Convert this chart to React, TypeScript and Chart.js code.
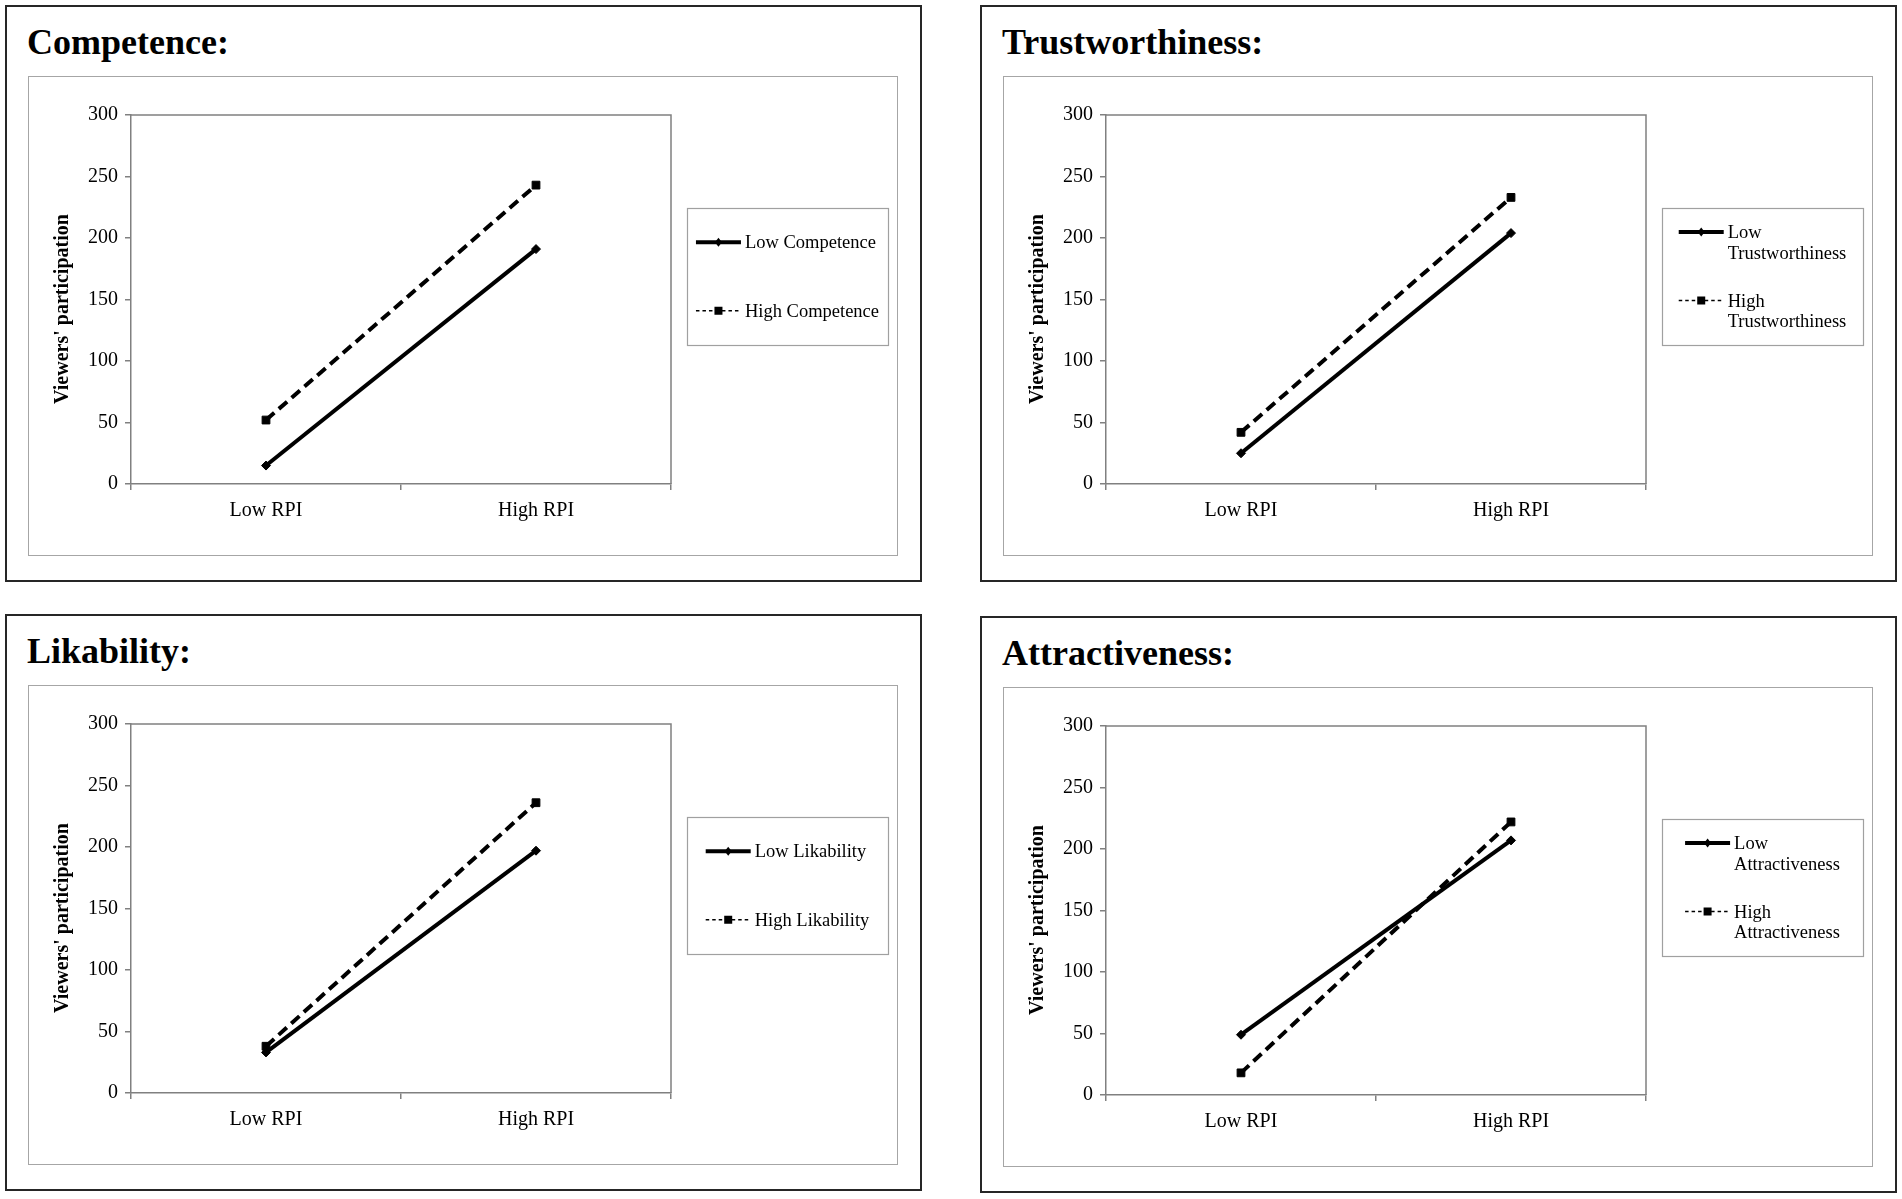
import React, { useEffect, useRef } from "react";
import { Chart, registerables } from "chart.js";

Chart.register(...registerables);

// ---------- data ----------
const categories = ["Low RPI", "High RPI"];
const yTicks = [0, 50, 100, 150, 200, 250, 300];
const yAxisTitle = "Viewers' participation";

const panelTitles = ["Competence:", "Trustworthiness:", "Likability:", "Attractiveness:"];
const lowLabels = ["Low Competence", "Low Trustworthiness", "Low Likability", "Low Attractiveness"];
const highLabels = ["High Competence", "High Trustworthiness", "High Likability", "High Attractiveness"];

const competenceLow = [15, 191];
const competenceHigh = [52, 243];
const trustLow = [25, 204];
const trustHigh = [42, 233];
const likabilityLow = [33, 197];
const likabilityHigh = [38, 236];
const attractLow = [49, 207];
const attractHigh = [18, 222];

const lowSeries = [competenceLow, trustLow, likabilityLow, attractLow];
const highSeries = [competenceHigh, trustHigh, likabilityHigh, attractHigh];

// ---------- layout ----------
const panelPos = [
  [5, 5],
  [980, 5],
  [5, 614],
  [980, 616],
];
const PANEL_W = 917;
const PANEL_H = 577;
const INNER_X = 23;
const INNER_Y = 71;
const INNER_W = 870;
const INNER_H = 480;
const SERIF = "'Liberation Serif', 'Times New Roman', serif";
const AXIS_GRAY = "#808080";

function wrapText(ctx: CanvasRenderingContext2D, text: string, maxW: number): string[] {
  const words = text.split(" ");
  const lines: string[] = [];
  let cur = "";
  for (const w of words) {
    const test = cur ? cur + " " + w : w;
    if (cur && ctx.measureText(test).width > maxW) {
      lines.push(cur);
      cur = w;
    } else {
      cur = test;
    }
  }
  if (cur) lines.push(cur);
  return lines;
}

const framePlugin = {
  id: "plotFrame",
  beforeDatasetsDraw(chart: any) {
    const { ctx, chartArea } = chart;
    ctx.save();
    ctx.strokeStyle = AXIS_GRAY;
    ctx.lineWidth = 1.5;
    ctx.beginPath();
    ctx.moveTo(chartArea.left, chartArea.top);
    ctx.lineTo(chartArea.right, chartArea.top);
    ctx.lineTo(chartArea.right, chartArea.bottom);
    ctx.stroke();
    ctx.restore();
  },
};

const yTitlePlugin = {
  id: "yTitle",
  afterDraw(chart: any, _args: any, opts: any) {
    const { ctx, chartArea } = chart;
    ctx.save();
    ctx.translate(opts.x, (chartArea.top + chartArea.bottom) / 2 + opts.dy);
    ctx.rotate(-Math.PI / 2);
    ctx.font = `bold 20px ${SERIF}`;
    ctx.fillStyle = "#000";
    ctx.textAlign = "center";
    ctx.textBaseline = "middle";
    ctx.fillText(opts.text, 0, 0);
    ctx.restore();
  },
};

const boxLegendPlugin = {
  id: "boxLegend",
  afterDraw(chart: any, _args: any, opts: any) {
    const ctx: CanvasRenderingContext2D = chart.ctx;
    const { x, y, w, h } = opts;
    ctx.save();
    ctx.strokeStyle = "#a0a0a0";
    ctx.lineWidth = 1.2;
    ctx.strokeRect(x + 0.5, y + 0.5, w, h);
    ctx.font = `18.5px ${SERIF}`;
    ctx.fillStyle = "#000";
    ctx.textBaseline = "alphabetic";
    const dss = chart.data.datasets;
    const n = dss.length;
    const lh = 20.5;
    const sampleW = 45;
    const gap = 4;
    const wrapped = dss.map((ds: any) => wrapText(ctx, ds.label, 141));
    let maxText = 0;
    wrapped.forEach((lines: string[]) =>
      lines.forEach((ln) => {
        maxText = Math.max(maxText, ctx.measureText(ln).width);
      })
    );
    const contentW = sampleW + gap + maxText;
    const left = x + (w - contentW) / 2;
    dss.forEach((ds: any, i: number) => {
      const lines = wrapped[i];
      const cy = y + (h * (2 * i + 1)) / (2 * n);
      const first = cy - ((lines.length - 1) * lh) / 2;
      const sx0 = left;
      const sx1 = left + sampleW;
      const mx = (sx0 + sx1) / 2;
      ctx.beginPath();
      ctx.strokeStyle = "#000";
      ctx.setLineDash(ds.legendDash);
      ctx.lineWidth = ds.legendWidth;
      ctx.moveTo(sx0, first);
      ctx.lineTo(sx1, first);
      ctx.stroke();
      ctx.setLineDash([]);
      ctx.fillStyle = "#000";
      if (ds.pointStyle === "rect") {
        ctx.fillRect(mx - 4, first - 4, 8, 8);
      } else {
        ctx.beginPath();
        ctx.moveTo(mx, first - 4.5);
        ctx.lineTo(mx + 3.5, first);
        ctx.lineTo(mx, first + 4.5);
        ctx.lineTo(mx - 3.5, first);
        ctx.closePath();
        ctx.fill();
      }
      lines.forEach((ln: string, j: number) => ctx.fillText(ln, sx1 + gap, first + j * lh + 6));
    });
    ctx.restore();
  },
};

function Panel({ idx }: { idx: number }) {
  const ref = useRef<HTMLCanvasElement | null>(null);
  useEffect(() => {
    if (!ref.current) return;
    const chart = new Chart(ref.current, {
      type: "line",
      data: {
        labels: categories,
        datasets: [
          {
            label: lowLabels[idx],
            data: lowSeries[idx],
            borderColor: "#000",
            backgroundColor: "#000",
            borderWidth: 4,
            pointStyle: "rectRot",
            pointRadius: 4.5,
            pointBorderWidth: 1,
            pointBackgroundColor: "#000",
            pointBorderColor: "#000",
            tension: 0,
            legendDash: [],
            legendWidth: 3.8,
          } as any,
          {
            label: highLabels[idx],
            data: highSeries[idx],
            borderColor: "#000",
            backgroundColor: "#000",
            borderWidth: 4,
            borderDash: [11, 6],
            pointStyle: "rect",
            pointRadius: 5.5,
            pointBorderWidth: 1,
            pointBackgroundColor: "#000",
            pointBorderColor: "#000",
            tension: 0,
            legendDash: [3.5, 3],
            legendWidth: 1.5,
          } as any,
        ],
      },
      options: {
        animation: false,
        responsive: false,
        maintainAspectRatio: false,
        events: [],
        layout: { padding: { left: 22, right: 227, top: 39, bottom: 22 } },
        plugins: {
          legend: { display: false },
          tooltip: { enabled: false },
          boxLegend: { x: 659, y: 132, w: 201, h: 137 },
          yTitle: { text: yAxisTitle, x: 35, dy: 9.5 },
        } as any,
        scales: {
          x: {
            type: "category",
            offset: true,
            grid: {
              offset: true,
              drawOnChartArea: false,
              drawTicks: true,
              tickLength: 6,
              color: AXIS_GRAY,
              lineWidth: 1.5,
            },
            border: { color: AXIS_GRAY, width: 1.5 },
            ticks: {
              color: "#000",
              padding: 9,
              font: { family: SERIF, size: 20 },
              maxRotation: 0,
            },
            afterFit: (s: any) => {
              s.height = 50;
            },
          },
          y: {
            min: yTicks[0],
            max: yTicks[yTicks.length - 1],
            grid: {
              drawOnChartArea: false,
              drawTicks: true,
              tickLength: 6,
              color: AXIS_GRAY,
              lineWidth: 1.5,
            },
            border: { color: AXIS_GRAY, width: 1.5 },
            ticks: {
              stepSize: yTicks[1] - yTicks[0],
              color: "#000",
              padding: 7,
              font: { family: SERIF, size: 20 },
            },
            title: { display: false },
            afterFit: (s: any) => {
              s.width = 81;
            },
          },
        },
      },
      plugins: [framePlugin, yTitlePlugin, boxLegendPlugin],
    } as any);
    return () => chart.destroy();
  }, [idx]);

  const [px, py] = panelPos[idx];
  return (
    <div
      style={{
        position: "absolute",
        left: px,
        top: py,
        width: PANEL_W,
        height: PANEL_H,
        boxSizing: "border-box",
        border: "2px solid #262626",
        background: "#fff",
      }}
    >
      <div
        style={{
          position: "absolute",
          left: 20,
          top: 16.85,
          fontFamily: SERIF,
          fontWeight: "bold",
          fontSize: 36,
          lineHeight: "36px",
          color: "#000",
          whiteSpace: "nowrap",
        }}
      >
        {panelTitles[idx]}
      </div>
      <div
        style={{
          position: "absolute",
          left: INNER_X - 2,
          top: INNER_Y - 2,
          width: INNER_W,
          height: INNER_H,
          boxSizing: "border-box",
          border: "1.5px solid #a6a6a6",
        }}
      />
      <canvas
        ref={ref}
        width={INNER_W}
        height={INNER_H}
        style={{
          position: "absolute",
          left: INNER_X - 2,
          top: INNER_Y - 2,
          width: INNER_W,
          height: INNER_H,
        }}
      />
    </div>
  );
}

export default function App() {
  return (
    <div
      style={{
        position: "absolute",
        left: 0,
        top: 0,
        width: 1902,
        height: 1199,
        background: "#fff",
      }}
    >
      {[0, 1, 2, 3].map((i) => (
        <Panel key={i} idx={i} />
      ))}
    </div>
  );
}
